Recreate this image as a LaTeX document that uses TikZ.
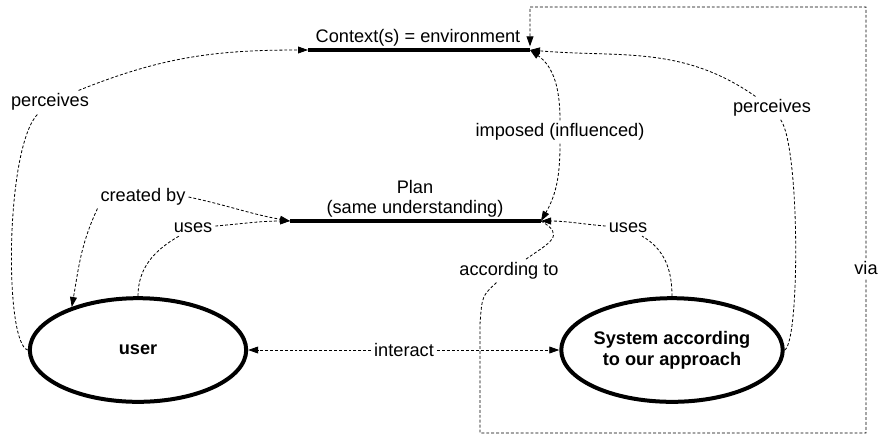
\documentclass[tikz,border=0pt]{standalone}
\usepackage{fontspec}
\setmainfont{Liberation Sans}
\usetikzlibrary{arrows.meta,shapes.geometric}

\tikzset{
    flow/.style={draw=black,line width=0.45pt,dash pattern=on 1.6pt off 1.1pt},
    bar/.style={draw=black,line width=2.4pt},
}

\begin{document}
\begin{tikzpicture}[x=0.55pt,y=0.55pt,font=\fontsize{10}{11.5}\selectfont]
    \useasboundingbox (0,0) rectangle (880,436);

    \coordinate (ctxL) at (308,386);
    \coordinate (ctxR) at (530,386);
    \coordinate (planL) at (290,215);
    \coordinate (planR) at (541,215);
    \coordinate (viaBend) at (480,112);
    \coordinate (viaSW) at (480,3);
    \coordinate (viaSE) at (866,3);
    \coordinate (viaNE) at (866,429);
    \coordinate (viaNW) at (530,429);

    \draw [bar] (ctxL) -- (ctxR);
    \draw [bar] (planL) -- (planR);

    \begin{scope}[every node/.style={ellipse,draw,line width=2.2pt,inner sep=0pt,
                  minimum width=119pt,minimum height=57pt,align=center,
                  font=\fontsize{10}{11.5}\selectfont\bfseries}]
        \node (user) at (138,86) {user};
        \node (sys) at (672,86) {System according\\to our approach};
    \end{scope}

    \begin{scope}[every node/.style={inner sep=1.5pt,align=center}]
        \node (ctx) [anchor=south,inner sep=1pt] at (418,388) {Context(s) = environment};
        \node (plan) [anchor=south,inner sep=1pt,font=\fontsize{10}{10.5}\selectfont] at (415,217) {Plan\\(same understanding)};
        \node (perc1) at (50,334) {perceives};
        \node (perc2) at (772,328) {perceives};
        \node (imposed) at (560,304) {imposed (influenced)};
        \node (created) at (143,239) {created by};
        \node (uses1) at (193,208) {uses};
        \node (uses2) at (628,208) {uses};
        \node (according) at (509,165) {according to};
        \node (interact) at (404,86) {interact};
        \node (via) at (866,168) {via};
    \end{scope}

    \begin{scope}[>={Triangle[length=5.5pt,width=3.8pt]},
                  every edge/.style={flow}]
        \path (perc1) edge [->,out=22,in=180] (ctxL);
        \path (perc2) edge [->,out=145,in=-5] (ctxR);
        \path (imposed) edge [->,out=90,in=-35] (ctxR)
                        edge [->,out=-90,in=60] (planR);
        \path (created.south west) edge [->,out=-115,in=80] (user.147);
        \path (created.east) edge [->,out=-12,in=170] (planL);
        \path (user.north) edge [out=90,in=-150] (uses1);
        \path (uses1) edge [->,out=5,in=180] (planL);
        \path (sys.north) edge [out=90,in=-30] (uses2);
        \path (uses2) edge [->,out=175,in=0] (planR);
        \path (interact) edge [->] (user.east)
                         edge [->] (sys.west);
        \path (planR) edge [out=-30,in=35,looseness=1.8] (according);
        \draw [flow] (user.west) .. controls (4,92) and (5,290) .. (perc1);
        \draw [flow] (sys.east) .. controls (800,95) and (800,290) .. (perc2);
        \draw [flow,->,shorten >=2pt] (according) .. controls (482,140) .. (viaBend)
            -- (viaSW) -- (viaSE) -- (via) -- (viaNE) -- (viaNW) -- (ctxR);
    \end{scope}
\end{tikzpicture}
\end{document}
